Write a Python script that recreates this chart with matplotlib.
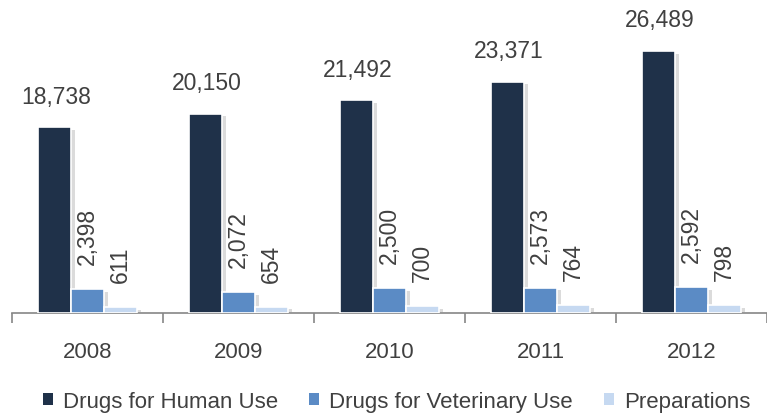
import numpy as np
import matplotlib.pyplot as plt
import matplotlib.patheffects as pe
from matplotlib import font_manager

names = {f.name for f in font_manager.fontManager.ttflist}
font = 'Liberation Sans Narrow' if 'Liberation Sans Narrow' in names else 'Liberation Sans'
plt.rcParams['font.family'] = [font, 'DejaVu Sans']

years = ['2008', '2009', '2010', '2011', '2012']
human = [18738, 20150, 21492, 23371, 26489]
veterinary = [2398, 2072, 2500, 2573, 2592]
preparations = [611, 654, 700, 764, 798]

series = [
    ('Drugs for Human Use', human, '#1f3149'),
    ('Drugs for Veterinary Use', veterinary, '#5b8bc5'),
    ('Preparations', preparations, '#c6d9f1'),
]

text_color = '#404040'
fig = plt.figure(figsize=(7.67, 4.14), dpi=100)
ax = fig.add_axes([12 / 767, 100 / 414, 755 / 767, 297 / 414])

x = np.arange(len(years))
step = 0.219
shadow = [pe.SimplePatchShadow(offset=(3, -2), shadow_rgbFace='#999999', alpha=0.35), pe.Normal()]

for i, (name, vals, color) in enumerate(series):
    pos = x + (i - 1) * step
    bars = ax.bar(pos, vals, width=step, color=color, edgecolor='white',
                  linewidth=1.2, label=name, zorder=3)
    for b in bars:
        b.set_path_effects(shadow)
    for p, v in zip(pos, vals):
        lbl = f'{v:,}'
        if i == 0:
            ax.annotate(lbl, (p, v), xytext=(1, 14), textcoords='offset points',
                        ha='center', va='bottom', fontsize=16.5, color=text_color)
        else:
            ax.annotate(lbl, (p, v), xytext=(0, 18), textcoords='offset points',
                        ha='center', va='bottom', rotation=90, fontsize=16.5,
                        color=text_color)

ax.set_xlim(-0.5, len(years) - 0.5)
ax.set_ylim(0, 30000)
for s in ['top', 'right', 'left']:
    ax.spines[s].set_visible(False)
ax.spines['bottom'].set_color('#868686')
ax.spines['bottom'].set_linewidth(1.2)
ax.set_yticks([])
ax.set_xticks(x)
ax.set_xticklabels(years, fontsize=16, color=text_color)
ax.tick_params(axis='x', which='major', length=0, pad=20)
ax.set_xticks(np.arange(-0.5, len(years)), minor=True)
ax.tick_params(axis='x', which='minor', length=7, width=1.2, color='#868686', direction='out')

leg = fig.legend(loc='lower center', bbox_to_anchor=(0.517, -0.045), ncol=3, frameon=False,
                 fontsize=16, handlelength=0.45, handleheight=0.45, handletextpad=0.45,
                 columnspacing=1.4, labelcolor=text_color)
for h in leg.legend_handles:
    h.set_path_effects([])
    h.set_edgecolor('none')

fig.savefig('out.png', dpi=100)
plt.close()
